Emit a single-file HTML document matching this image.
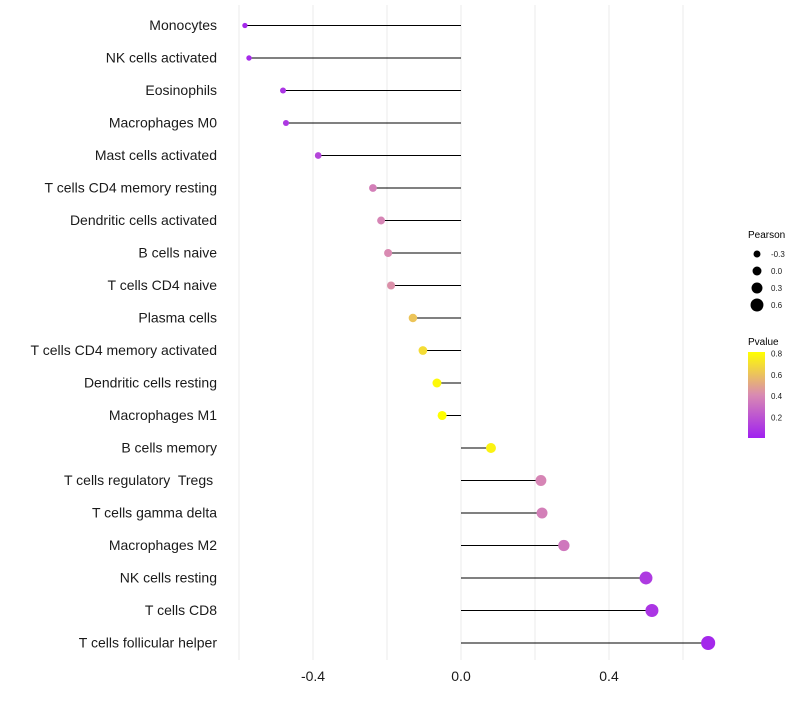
<!DOCTYPE html>
<html><head><meta charset="utf-8"><style>
body{margin:0;background:#fff;font-family:"Liberation Sans",sans-serif}
svg text{font-family:"Liberation Sans",sans-serif;white-space:pre}
</style></head><body>
<svg id="chart" width="800" height="700" xmlns="http://www.w3.org/2000/svg">
<defs><linearGradient id="pg" x1="0" y1="1" x2="0" y2="0">
<stop offset="0" stop-color="#A020F0"/><stop offset="0.5" stop-color="#D98AB2"/><stop offset="1" stop-color="#FFFF00"/></linearGradient></defs>
<g id="grid"></g>
<g id="marks"></g>
<g id="labels"></g>
<g id="xticks"></g>
<g>
<text x="748" y="238" font-size="10">Pearson</text>
<g id="sizeLegend"></g>
</g>
<g>
<text x="748" y="345" font-size="10">Pvalue</text>
<rect x="748" y="352" width="17" height="86" fill="url(#pg)"/>
<g id="colorLegend"></g>
</g>
</svg>
<script>
const categories=["Monocytes","NK cells activated","Eosinophils","Macrophages M0","Mast cells activated","T cells CD4 memory resting","Dendritic cells activated","B cells naive","T cells CD4 naive","Plasma cells","T cells CD4 memory activated","Dendritic cells resting","Macrophages M1","B cells memory","T cells regulatory  Tregs ","T cells gamma delta","Macrophages M2","NK cells resting","T cells CD8","T cells follicular helper"];
const pearson=[-0.584,-0.573,-0.481,-0.473,-0.386,-0.238,-0.216,-0.197,-0.189,-0.13,-0.103,-0.065,-0.051,0.081,0.216,0.219,0.278,0.5,0.516,0.668];
const pvalue=[0.03,0.04,0.08,0.09,0.14,0.36,0.38,0.4,0.42,0.6,0.68,0.78,0.82,0.76,0.38,0.36,0.33,0.1,0.08,0.03];
const xTicks=[-0.4,0.0,0.4];
const gridVals=[-0.6,-0.4,-0.2,0,0.2,0.4,0.6];
const sizeLegend=[-0.3,0.0,0.3,0.6];
const colorTicks=[0.8,0.6,0.4,0.2];
const NS="http://www.w3.org/2000/svg";
const x=v=>461+v*370;
const y=i=>25+i*32.5;
const r=v=>Math.max(2.2,4.7+3.5*v);
const py=p=>439-p*107;
function lerp(a,b,t){return a.map((c,i)=>Math.round(c+(b[i]-c)*t));}
function col(p){const t=Math.max(0,Math.min(1,p/0.8));const A=[160,32,240],M=[217,138,178],B=[255,255,0];
const c=t<0.5?lerp(A,M,t*2):lerp(M,B,(t-0.5)*2);return `rgb(${c})`;}
function mk(tag,at,parent){const e=document.createElementNS(NS,tag);for(const k in at)e.setAttribute(k,at[k]);parent.appendChild(e);return e;}
const G=document.getElementById('grid'),Mk=document.getElementById('marks'),L=document.getElementById('labels'),X=document.getElementById('xticks');
gridVals.forEach(v=>{const l=mk('line',{x1:x(v),x2:x(v),y1:5,y2:660,stroke:'#ebebeb','stroke-width':1},G);

});
categories.forEach((c,i)=>{
const yy=y(i)+0.5;
const ln=mk('line',{x1:x(0),x2:x(pearson[i]),y1:yy,y2:yy,stroke:'#000','stroke-width':1},Mk);


const d=mk('circle',{cx:x(pearson[i]),cy:yy,r:r(pearson[i]),fill:col(pvalue[i])},Mk);


const t=mk('text',{x:217,y:y(i)+5,'text-anchor':'end','font-size':14,fill:'#1a1a1a'},L);t.textContent=c;


});
xTicks.forEach(v=>{const t=mk('text',{x:x(v),y:681,'text-anchor':'middle','font-size':14,fill:'#1a1a1a'},X);t.textContent=v.toFixed(1);

});
const SL=document.getElementById('sizeLegend');
sizeLegend.forEach((v,i)=>{const cy=254+i*17;
const c=mk('circle',{cx:757,cy:cy,r:r(v)*0.95,fill:'#000'},SL);


const t=mk('text',{x:771,y:cy+3,'font-size':8,fill:'#1a1a1a'},SL);t.textContent=v.toFixed(1);

});
const CL=document.getElementById('colorLegend');
colorTicks.forEach(v=>{const t=mk('text',{x:771,y:py(v)+3,'font-size':8,fill:'#1a1a1a'},CL);t.textContent=v.toFixed(1);

});
</script>
</body></html>
